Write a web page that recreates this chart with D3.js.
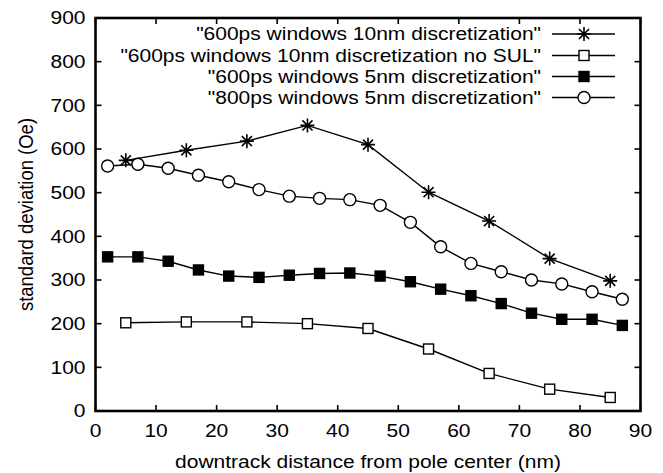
<!DOCTYPE html>
<html>
<head>
<meta charset="utf-8">
<script src="https://cdn.jsdelivr.net/npm/d3@7"></script>
<style>
  body { margin: 0; background: #fff; }
  svg { font-family: "Liberation Sans", Arial, sans-serif; }
</style>
</head>
<body>
<svg id="chart"></svg>
<script>
const xTicks = [0, 10, 20, 30, 40, 50, 60, 70, 80, 90];
const yTicks = [0, 100, 200, 300, 400, 500, 600, 700, 800, 900];

const xCoarse = [5, 15, 25, 35, 45, 55, 65, 75, 85];
const xFine = [2, 7, 12, 17, 22, 27, 32, 37, 42, 47, 52, 57, 62, 67, 72, 77, 82, 87];

const s600_10nm = [574, 597, 618, 654, 610, 501, 435, 349, 298];
const s600_10nm_noSUL = [202, 204, 204, 200, 189, 142, 86, 50, 31];
const s600_5nm = [353, 353, 343, 323, 309, 306, 311, 315, 316, 309, 296, 279, 264, 246, 224, 210, 210, 196];
const s800_5nm = [561, 565, 556, 540, 525, 507, 492, 487, 484, 471, 432, 376, 338, 319, 300, 291, 273, 256];

const seriesNames = [
  "\"600ps windows 10nm discretization\"",
  "\"600ps windows 10nm discretization no SUL\"",
  "\"600ps windows 5nm discretization\"",
  "\"800ps windows 5nm discretization\""
];

const width = 663, height = 473;
const mLeft = 95.5, mRight = 640.5, mTop = 18, mBottom = 411;
const fontSize = 18.5;
const stretch = 1.135; // the picture's text is a bit wider than tall

const svg = d3.select("#chart").attr("width", width).attr("height", height);

const x = d3.scaleLinear().domain([0, 90]).range([mLeft, mRight]);
const y = d3.scaleLinear().domain([0, 900]).range([mBottom, mTop]);

const series = [
  { name: seriesNames[0], xs: xCoarse, ys: s600_10nm, marker: "star" },
  { name: seriesNames[1], xs: xCoarse, ys: s600_10nm_noSUL, marker: "square" },
  { name: seriesNames[2], xs: xFine, ys: s600_5nm, marker: "filled" },
  { name: seriesNames[3], xs: xFine, ys: s800_5nm, marker: "circle" }
];

function label(g, tx, ty, str, anchor, dy) {
  return g.append("text")
    .attr("transform", `translate(${tx},${ty}) scale(${stretch},1)`)
    .attr("text-anchor", anchor)
    .attr("dy", dy || 0)
    .attr("font-size", fontSize)
    .text(str);
}

function drawMarker(g, type, cx, cy) {
  if (type === "star") {
    const r = 7;
    const d = r * 0.72;
    g.append("path")
      .attr("d", `M${cx - r},${cy}L${cx + r},${cy}M${cx},${cy - r}L${cx},${cy + r}` +
        `M${cx - d},${cy - d}L${cx + d},${cy + d}M${cx - d},${cy + d}L${cx + d},${cy - d}`)
      .attr("stroke", "#000").attr("stroke-width", 1.6).attr("fill", "none");
  } else if (type === "square" || type === "filled") {
    const s = 10;
    g.append("rect")
      .attr("x", cx - s / 2).attr("y", cy - s / 2)
      .attr("width", s).attr("height", s)
      .attr("fill", type === "filled" ? "#000" : "#fff")
      .attr("stroke", "#000").attr("stroke-width", 1.4);
  } else {
    g.append("circle")
      .attr("cx", cx).attr("cy", cy).attr("r", 6)
      .attr("fill", "#fff").attr("stroke", "#000").attr("stroke-width", 1.4);
  }
}

// ticks (inward, mirrored)
const tickLen = 6;
const ticks = svg.append("g").attr("stroke", "#000").attr("stroke-width", 1.6);
yTicks.forEach(v => {
  ticks.append("line").attr("x1", mLeft).attr("x2", mLeft + tickLen).attr("y1", y(v)).attr("y2", y(v));
  ticks.append("line").attr("x1", mRight).attr("x2", mRight - tickLen).attr("y1", y(v)).attr("y2", y(v));
});
xTicks.forEach(v => {
  ticks.append("line").attr("x1", x(v)).attr("x2", x(v)).attr("y1", mBottom).attr("y2", mBottom - tickLen);
  ticks.append("line").attr("x1", x(v)).attr("x2", x(v)).attr("y1", mTop).attr("y2", mTop + tickLen);
});

// tick labels
const yLab = svg.append("g");
yTicks.forEach(v => label(yLab, mLeft - 10, y(v), v, "end", "0.35em"));
const xLab = svg.append("g");
xTicks.forEach(v => label(xLab, x(v), mBottom + 26, v, "middle"));

// axis titles
label(svg, (mLeft + mRight) / 2, 468, "downtrack distance from pole center (nm)", "middle");
svg.append("text")
  .attr("transform", `translate(33,${(mTop + mBottom) / 2}) scale(${stretch},1) rotate(-90)`)
  .attr("text-anchor", "middle").attr("font-size", fontSize)
  .text("standard deviation (Oe)");

// lines + markers
const line = d3.line().x(d => x(d[0])).y(d => y(d[1]));
series.forEach(s => {
  const pts = s.xs.map((v, i) => [v, s.ys[i]]);
  svg.append("path").datum(pts).attr("d", line)
    .attr("fill", "none").attr("stroke", "#000").attr("stroke-width", 1.4);
  const g = svg.append("g");
  pts.forEach(p => drawMarker(g, s.marker, x(p[0]), y(p[1])));
});

// legend
const legY = [34, 55.5, 76.5, 97.5];
series.forEach((s, i) => {
  const g = svg.append("g");
  label(g, 541, legY[i], s.name, "end", "0.35em");
  g.append("line").attr("x1", 552).attr("x2", 615).attr("y1", legY[i]).attr("y2", legY[i])
    .attr("stroke", "#000").attr("stroke-width", 1.4);
  drawMarker(g, s.marker, 584, legY[i]);
});

// frame
svg.append("rect").attr("x", mLeft).attr("y", mTop)
  .attr("width", mRight - mLeft).attr("height", mBottom - mTop)
  .attr("fill", "none").attr("stroke", "#000").attr("stroke-width", 2.6);
</script>
</body>
</html>
